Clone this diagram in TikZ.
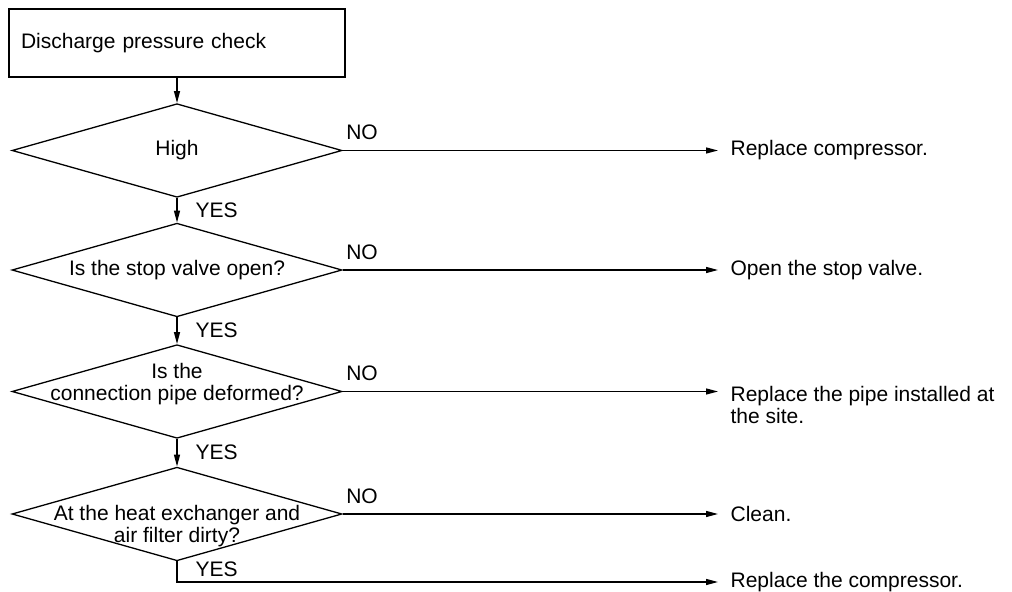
\documentclass[tikz,border=0pt]{standalone}
\usepackage{fontspec}
\setmainfont{Liberation Sans}
\usetikzlibrary{arrows.meta,shapes.geometric}

\begin{document}
\begin{tikzpicture}[x=0.5pt,y=-0.5pt,>={Triangle[length=6pt,width=3pt]},line width=0.65pt,
  font=\fontsize{10.5}{11}\selectfont,
  test/.style={draw,diamond,minimum width=165pt,minimum height=46.8pt,inner sep=0pt},
  qtext/.style={align=center,inner sep=0pt},
  action/.style={anchor=west,align=left,inner xsep=6pt,inner ysep=0pt},
  yeslbl/.style={anchor=west,inner xsep=9pt,inner ysep=0pt},
  nolbl/.style={anchor=south west,inner xsep=1.5pt,inner ysep=5pt}]
\useasboundingbox (0,0) rectangle (1012,592);
% check box and the four questions
\node[draw,minimum height=34pt,text width=156pt,inner xsep=6pt,align=left](start) at (177,43){Discharge pressure check};
\node[test](d1) at (177,150.5){};
\node[test](d2) at (177,270){};
\node[test](d3) at (177,391.5){};
\node[test](d4) at (177,514){};
\node[qtext](q1) at (d1){High};
\node[qtext](q2) at (d2){Is the stop valve open?};
\node[qtext](q3) at (177,384){Is the\\connection pipe deformed?};
\node[qtext](q4) at (177,526.5){At the heat exchanger and\\air filter dirty?};
% remedies
\node[action](a1) at (718,150.5){Replace compressor.};
\node[action](a2) at (718,270){Open the stop valve.};
\node[action,anchor=north west](a3) at (718,385.6){Replace the pipe installed at\\the site.};
\node[action](a4) at (718,514){Clean.};
\node[action](a5) at (718,582){Replace the compressor.};
% YES path
\draw[->](start)--(d1);
\draw[->](d1)--node[yeslbl](y1){YES}(d2);
\draw[->](d2)--node[yeslbl](y2){YES}(d3);
\draw[->](d3)--node[yeslbl](y3){YES}(d4);
\draw[->](d4.south)|-node[yeslbl,pos=0.2](y4){YES}(a5.west);
% NO branches
\draw[->](d1.east)--node[nolbl,pos=0](n1){NO}(d1.east-|a1.west);
\draw[->](d2.east)--node[nolbl,pos=0](n2){NO}(d2.east-|a2.west);
\draw[->](d3.east)--node[nolbl,pos=0](n3){NO}(d3.east-|a3.west);
\draw[->](d4.east)--node[nolbl,pos=0](n4){NO}(d4.east-|a4.west);
\end{tikzpicture}
\end{document}
